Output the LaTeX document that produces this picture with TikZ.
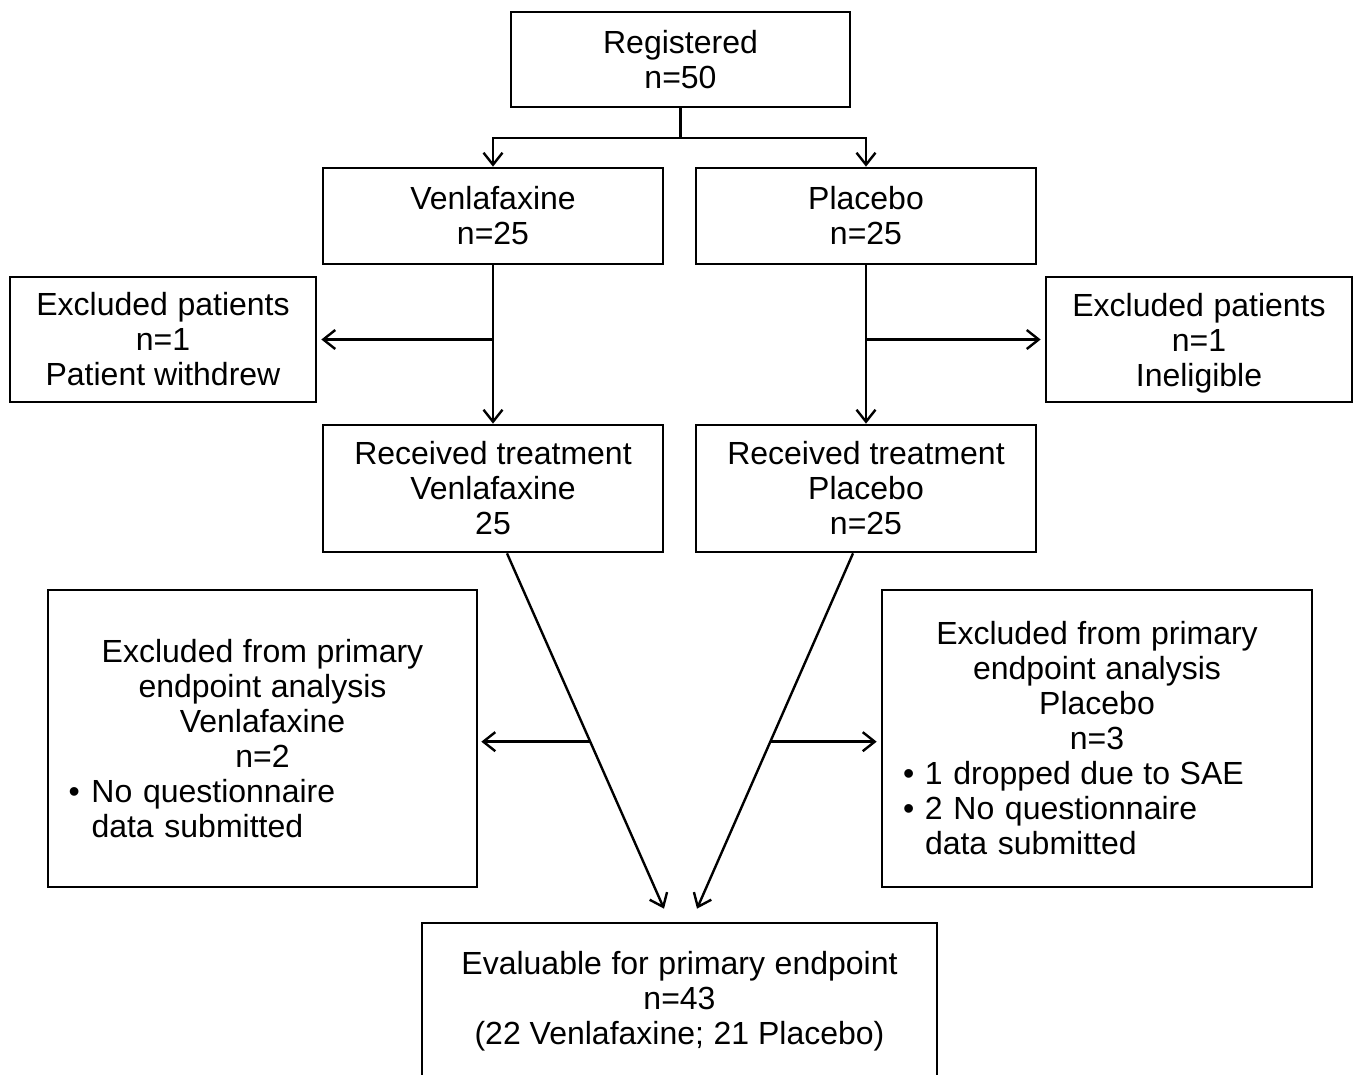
\documentclass[tikz,border=0pt]{standalone}
\usepackage{fontspec}
\setmainfont{Liberation Sans}
\usetikzlibrary{arrows.meta,calc}
\newcommand\wsp{\hspace{0.3em}}
\newcommand\bl[2]{\makebox[388pt][l]{\makebox[#1][l]{\textbullet}#2}}
\newcommand\blc[2]{\makebox[388pt][l]{\hspace*{#1}#2}}
\begin{document}
\begin{tikzpicture}[x=1pt,y=-1pt,
  box/.style={draw, line width=2.7pt, inner sep=0pt, align=center,
    font=\fontsize{32}{35}\selectfont},
  conn/.style={line width=2.4pt},
  arr/.style={conn, -{Straight Barb[length=12pt,width=19pt]}}]
\clip (0,0) rectangle (1356,1074);
\fill[white] (0,0) rectangle (1356,1074);

\node[box, minimum width=339pt, minimum height=95pt] (reg) at (680.5,59.5) {Registered\\n=50};
\node[box, minimum width=340pt, minimum height=96pt] (ven) at (493,216) {Venlafaxine\\n=25};
\node[box, minimum width=340pt, minimum height=96pt] (pla) at (866,216) {Placebo\\n=25};
\node[box, minimum width=306pt, minimum height=125pt] (exL) at (163,339.5) {Excluded\wsp patients\\n=1\\Patient withdrew};
\node[box, minimum width=306pt, minimum height=125pt] (exR) at (1199,339.5) {Excluded\wsp patients\\n=1\\\smash{Ineligible}};
\node[box, minimum width=340pt, minimum height=127pt] (recL) at (493,488.5) {Received treatment\\Venlafaxine\\25};
\node[box, minimum width=340pt, minimum height=127pt] (recR) at (866,488.5) {Received treatment\\Placebo\\n=25};
\node[box, minimum width=429pt, minimum height=297pt, text width=388pt] (pexL) at (262.5,738.5)
  {Excluded\wsp from\wsp primary\\endpoint\wsp analysis\\Venlafaxine\\n=2\\
   \bl{23pt}{No questionnaire}\\\blc{23pt}{data submitted}};
\node[box, minimum width=430pt, minimum height=297pt, text width=388pt] (pexR) at (1097,738.5)
  {Excluded\wsp from\wsp primary\\endpoint\wsp analysis\\Placebo\\n=3\\
   \bl{22pt}{1 dropped\wsp due\wsp to\wsp SAE}\\\bl{22pt}{2 No questionnaire}\\\blc{22pt}{data submitted}};
\node[box, minimum width=515pt, minimum height=156pt] (eva) at (679.5,1001)
  {Evaluable\wsp for\wsp primary\wsp endpoint\\n=43\\(22 Venlafaxine;\wsp 21 Placebo)};

% randomisation split
\coordinate (jn) at (680.5,138);
\draw[conn] (reg.south) -- (jn);
\draw[arr] (jn) -| (ven.north);
\draw[arr] (jn) -| (pla.north);

% allocation to treatment
\draw[arr] (ven.south) -- (recL.north);
\draw[arr] (pla.south) -- (recR.north);
\draw[arr] (ven.south |- exL.east) -- ([xshift=4pt]exL.east);
\draw[arr] (pla.south |- exR.west) -- ([xshift=-4pt]exR.west);

% diagonals to evaluable
\coordinate (dLa) at ([xshift=14pt]recL.south);
\coordinate (dLb) at ([xshift=-15.5pt,yshift=13pt]eva.north);
\coordinate (dRa) at ([xshift=-13pt]recR.south);
\coordinate (dRb) at ([xshift=17.5pt,yshift=13pt]eva.north);
\draw[arr] (dLa) -- (dLb);
\draw[arr] (dRa) -- (dRb);
\coordinate (bL) at ($(dLa)!0.53!(dLb)$);
\coordinate (bR) at ($(dRa)!0.53!(dRb)$);
\draw[arr] (bL) -- ([xshift=3pt]pexL.east |- bL);
\draw[arr] (bR) -- ([xshift=-4pt]pexR.west |- bR);
\end{tikzpicture}
\end{document}
